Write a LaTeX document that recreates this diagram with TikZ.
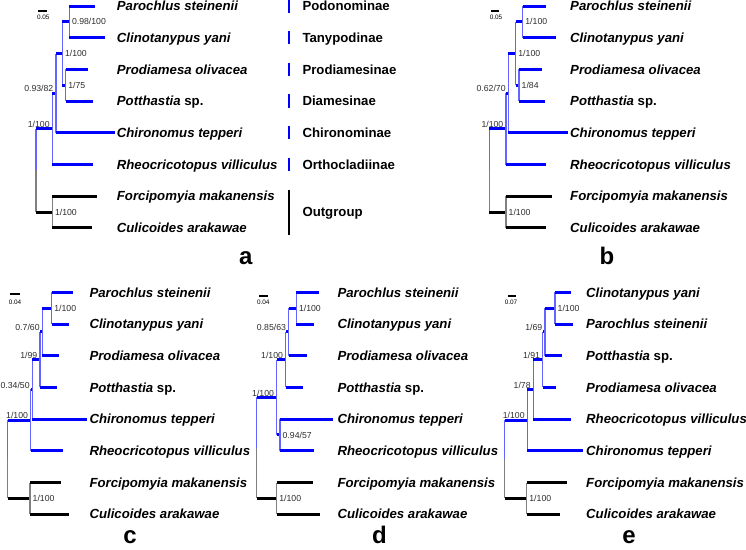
\documentclass[tikz,border=0pt]{standalone}
\usepackage{fontspec}
\setmainfont{Liberation Sans}
\usetikzlibrary{positioning}
\definecolor{vblue}{RGB}{100,100,255}
\definecolor{suptxt}{RGB}{45,45,45}

\begin{document}
\begin{tikzpicture}[x=1pt,y=-31.7pt,
  hbr/.style={line width=3pt,blue},
  hbk/.style={line width=3pt,black},
  vbr/.style={line width=1.4pt,vblue},
  vbk/.style={line width=1.4pt,black!50},
  taxon/.style={anchor=west,inner sep=0pt,text height=9.4pt,text depth=0pt,
                font=\fontsize{13.2}{14}\selectfont\bfseries\itshape},
  subfam/.style={anchor=west,inner sep=0pt,text height=9.4pt,text depth=0pt,
                 font=\fontsize{13.2}{14}\selectfont\bfseries},
  subbar/.style={line width=1.8pt},
  supval/.style={inner sep=0pt,text height=6.2pt,text depth=0pt,text=suptxt,
                 font=\fontsize{8.7}{9}\selectfont},
  supr/.style={supval,anchor=west,xshift=2.5pt},
  supl/.style={supval,anchor=south east,xshift=-2.5pt,yshift=1pt},
  sbar/.style={line width=1.7pt,black},
  sblbl/.style={inner sep=0pt,font=\fontsize{6.4}{7}\selectfont},
  letter/.style={anchor=base,inner sep=0pt,text depth=0pt,font=\fontsize{24}{24}\selectfont\bfseries}]

\useasboundingbox (0pt,0pt) rectangle (746pt,-549pt);

% --- a. with subfamilies
\begin{scope}[xshift=36pt,yshift=-6pt]
  \foreach \i/\e/\txt in {0/59/{Parochlus steinenii},1/69/{Clinotanypus yani},
      2/52.3/{Prodiamesa olivacea},3/57.3/{Potthastia \upshape sp.},4/79/{Chironomus tepperi},
      5/57.3/{Rheocricotopus villiculus},6/61.3/{Forcipomyia makanensis},7/55.7/{Culicoides arakawae}}{
    \coordinate (a\i) at (\e,\i);
    \node[taxon] (alab\i) at (80.7,\i) {\txt};
  }
  \coordinate (aroot) at (0,5.1875);
  \coordinate (ain) at (16.3,3.875);
  \coordinate (achi) at (20,2.75);
  \coordinate (aup) at (26.3,1.5);
  \coordinate (apc) at (33.3,0.5);
  \coordinate (app) at (29.7,2.5);
  \coordinate (aout) at (16.3,6.5);
  \foreach \p/\c in {aroot/ain,ain/achi,ain/a5,achi/aup,achi/a4,aup/apc,aup/app,apc/a0,apc/a1,app/a2,app/a3}{
    \draw[vbr] (\p) -- (\p |- \c);
    \draw[hbr] (\p |- \c) -- (\c);
  }
  \foreach \p/\c in {aroot/aout,aout/a6,aout/a7}{
    \draw[vbk] (\p) -- (\p |- \c);
    \draw[hbk] (\p |- \c) -- (\c);
  }
  \node[supr] (as1) at (apc) {0.98/100};
  \node[supr] (as2) at (aup) {1/100};
  \node[supr] (as3) at (app) {1/75};
  \node[supl] (as4) at (achi) {0.93/82};
  \node[supl] (as5) at (ain) {1/100};
  \node[supr] (as6) at (aout) {1/100};
  % subfamily bars
  \foreach \i/\txt in {0/Podonominae,1/Tanypodinae,2/Prodiamesinae,3/Diamesinae,4/Chironominae,5/Orthocladiinae}{
    \draw[subbar,blue] (253,\i-0.21) -- (253,\i+0.21);
    \node[subfam] (asub\i) at (266.3,\i) {\txt};
  }
  \draw[subbar,black] (253,5.79) -- (253,7.21);
  \node[subfam] (asub6) at (266.3,6.5) {Outgroup};
  \draw[sbar] (2.3,0.158) -- (10.7,0.158);
  \node[sblbl] (asc) at (7.3,0.356) {0.05};
  \node[letter] (alet) at (209.7,8.14) {a};
\end{scope}

% --- b
\begin{scope}[xshift=489.3pt,yshift=-6pt]
  \foreach \i/\e/\txt in {0/56.7/{Parochlus steinenii},1/66.7/{Clinotanypus yani},
      2/52.4/{Prodiamesa olivacea},3/55.7/{Potthastia \upshape sp.},4/79/{Chironomus tepperi},
      5/56.4/{Rheocricotopus villiculus},6/62.4/{Forcipomyia makanensis},7/56.7/{Culicoides arakawae}}{
    \coordinate (b\i) at (\e,\i);
    \node[taxon] (blab\i) at (80.7,\i) {\txt};
  }
  \coordinate (broot) at (0,5.1875);
  \coordinate (bin) at (16.7,3.875);
  \coordinate (bchi) at (19,2.75);
  \coordinate (bup) at (26.4,1.5);
  \coordinate (bpc) at (33.4,0.5);
  \coordinate (bpp) at (29.7,2.5);
  \coordinate (bout) at (16.7,6.5);
  \foreach \p/\c in {broot/bin,bin/bchi,bin/b5,bchi/bup,bchi/b4,bup/bpc,bup/bpp,bpc/b0,bpc/b1,bpp/b2,bpp/b3}{
    \draw[vbr] (\p) -- (\p |- \c);
    \draw[hbr] (\p |- \c) -- (\c);
  }
  \foreach \p/\c in {broot/bout,bout/b6,bout/b7}{
    \draw[vbk] (\p) -- (\p |- \c);
    \draw[hbk] (\p |- \c) -- (\c);
  }
  \node[supr] (bs1) at (bpc) {1/100};
  \node[supr] (bs2) at (bup) {1/100};
  \node[supr] (bs3) at (bpp) {1/84};
  \node[supl] (bs4) at (bchi) {0.62/70};
  \node[supl] (bs5) at (bin) {1/100};
  \node[supr] (bs6) at (bout) {1/100};
  \draw[sbar] (1.7,0.158) -- (9.7,0.158);
  \node[sblbl] (bsc) at (6.7,0.356) {0.05};
  \node[letter] (blet) at (117.7,8.14) {b};
\end{scope}

% --- c
\begin{scope}[xshift=7.7pt,yshift=-292.3pt]
  \foreach \i/\e/\txt in {0/65/{Parochlus steinenii},1/61.3/{Clinotanypus yani},
      2/51.6/{Prodiamesa olivacea},3/49.6/{Potthastia \upshape sp.},4/79.6/{Chironomus tepperi},
      5/55.6/{Rheocricotopus villiculus},6/53.3/{Forcipomyia makanensis},7/61.6/{Culicoides arakawae}}{
    \coordinate (c\i) at (\e,\i);
    \node[taxon] (clab\i) at (81.6,\i) {\txt};
  }
  \coordinate (croot) at (0,5.2656);
  \coordinate (cin) at (23,4.0313);
  \coordinate (cchi) at (24.6,3.0625);
  \coordinate (cpot) at (32.3,2.125);
  \coordinate (cpro) at (34.6,1.25);
  \coordinate (cpc) at (44,0.5);
  \coordinate (cout) at (22.3,6.5);
  \foreach \p/\c in {croot/cin,cin/cchi,cin/c5,cchi/cpot,cchi/c4,cpot/cpro,cpot/c3,cpro/cpc,cpro/c2,cpc/c0,cpc/c1}{
    \draw[vbr] (\p) -- (\p |- \c);
    \draw[hbr] (\p |- \c) -- (\c);
  }
  \foreach \p/\c in {croot/cout,cout/c6,cout/c7}{
    \draw[vbk] (\p) -- (\p |- \c);
    \draw[hbk] (\p |- \c) -- (\c);
  }
  \node[supr] (cs1) at (cpc) {1/100};
  \node[supl] (cs2) at (cpro) {0.7/60};
  \node[supl] (cs3) at (cpot) {1/99};
  \node[supl] (cs4) at (cchi) {0.34/50};
  \node[supl] (cs5) at (cin) {1/100};
  \node[supr] (cs6) at (cout) {1/100};
  \draw[sbar] (2.3,0.063) -- (12.3,0.063);
  \node[sblbl] (csc) at (7.3,0.33) {0.04};
  \node[letter] (clet) at (122.3,7.92) {c};
\end{scope}

% --- d
\begin{scope}[xshift=256.7pt,yshift=-292.3pt]
  \foreach \i/\e/\txt in {0/62.3/{Parochlus steinenii},1/57.3/{Clinotanypus yani},
      2/50/{Prodiamesa olivacea},3/46.6/{Potthastia \upshape sp.},4/76/{Chironomus tepperi},
      5/57.3/{Rheocricotopus villiculus},6/56.6/{Forcipomyia makanensis},7/63.3/{Culicoides arakawae}}{
    \coordinate (d\i) at (\e,\i);
    \node[taxon] (dlab\i) at (80.6,\i) {\txt};
  }
  \coordinate (droot) at (0,4.906);
  \coordinate (din) at (20,3.3125);
  \coordinate (dpot) at (29,2.125);
  \coordinate (dpro) at (32,1.25);
  \coordinate (dpc) at (39.6,0.5);
  \coordinate (dcr) at (23.3,4.5);
  \coordinate (dout) at (20,6.5);
  \foreach \p/\c in {droot/din,din/dpot,din/dcr,dpot/dpro,dpot/d3,dpro/dpc,dpro/d2,dpc/d0,dpc/d1,dcr/d4,dcr/d5}{
    \draw[vbr] (\p) -- (\p |- \c);
    \draw[hbr] (\p |- \c) -- (\c);
  }
  \foreach \p/\c in {droot/dout,dout/d6,dout/d7}{
    \draw[vbk] (\p) -- (\p |- \c);
    \draw[hbk] (\p |- \c) -- (\c);
  }
  \node[supr] (ds1) at (dpc) {1/100};
  \node[supl] (ds2) at (dpro) {0.85/63};
  \node[supl] (ds3) at (dpot) {1/100};
  \node[supl] (ds4) at (din) {1/100};
  \node[supr] (ds5) at (dcr) {0.94/57};
  \node[supr] (ds6) at (dout) {1/100};
  \draw[sbar] (2.3,0.117) -- (11.6,0.117);
  \node[sblbl] (dsc) at (6.6,0.33) {0.04};
  \node[letter] (dlet) at (122.8,7.92) {d};
\end{scope}

% --- e
\begin{scope}[xshift=504.7pt,yshift=-292.3pt]
  \foreach \i/\e/\txt in {0/66.3/{Clinotanypus yani},1/68/{Parochlus steinenii},
      2/57.6/{Potthastia \upshape sp.},3/51/{Prodiamesa olivacea},4/66.3/{Rheocricotopus villiculus},
      5/78.6/{Chironomus tepperi},6/62/{Forcipomyia makanensis},7/55.3/{Culicoides arakawae}}{
    \coordinate (e\i) at (\e,\i);
    \node[taxon] (elab\i) at (81.3,\i) {\txt};
  }
  \coordinate (eroot) at (0,5.2656);
  \coordinate (ein) at (22.6,4.0313);
  \coordinate (erhe) at (28.6,3.0625);
  \coordinate (epro) at (38,2.125);
  \coordinate (epot) at (40.3,1.25);
  \coordinate (ecp) at (50.3,0.5);
  \coordinate (eout) at (22,6.5);
  \foreach \p/\c in {eroot/ein,ein/erhe,ein/e5,erhe/epro,erhe/e4,epro/epot,epro/e3,epot/ecp,epot/e2,ecp/e0,ecp/e1}{
    \draw[vbr] (\p) -- (\p |- \c);
    \draw[hbr] (\p |- \c) -- (\c);
  }
  \foreach \p/\c in {eroot/eout,eout/e6,eout/e7}{
    \draw[vbk] (\p) -- (\p |- \c);
    \draw[hbk] (\p |- \c) -- (\c);
  }
  \node[supr] (es1) at (ecp) {1/100};
  \node[supl] (es2) at (epot) {1/69};
  \node[supl] (es3) at (epro) {1/91};
  \node[supl] (es4) at (erhe) {1/78};
  \node[supl] (es5) at (ein) {1/100};
  \node[supr] (es6) at (eout) {1/100};
  \draw[sbar] (3,0.117) -- (11.3,0.117);
  \node[sblbl] (esc) at (6.3,0.33) {0.07};
  \node[letter] (elet) at (124.3,7.92) {e};
\end{scope}
\end{tikzpicture}
\end{document}
